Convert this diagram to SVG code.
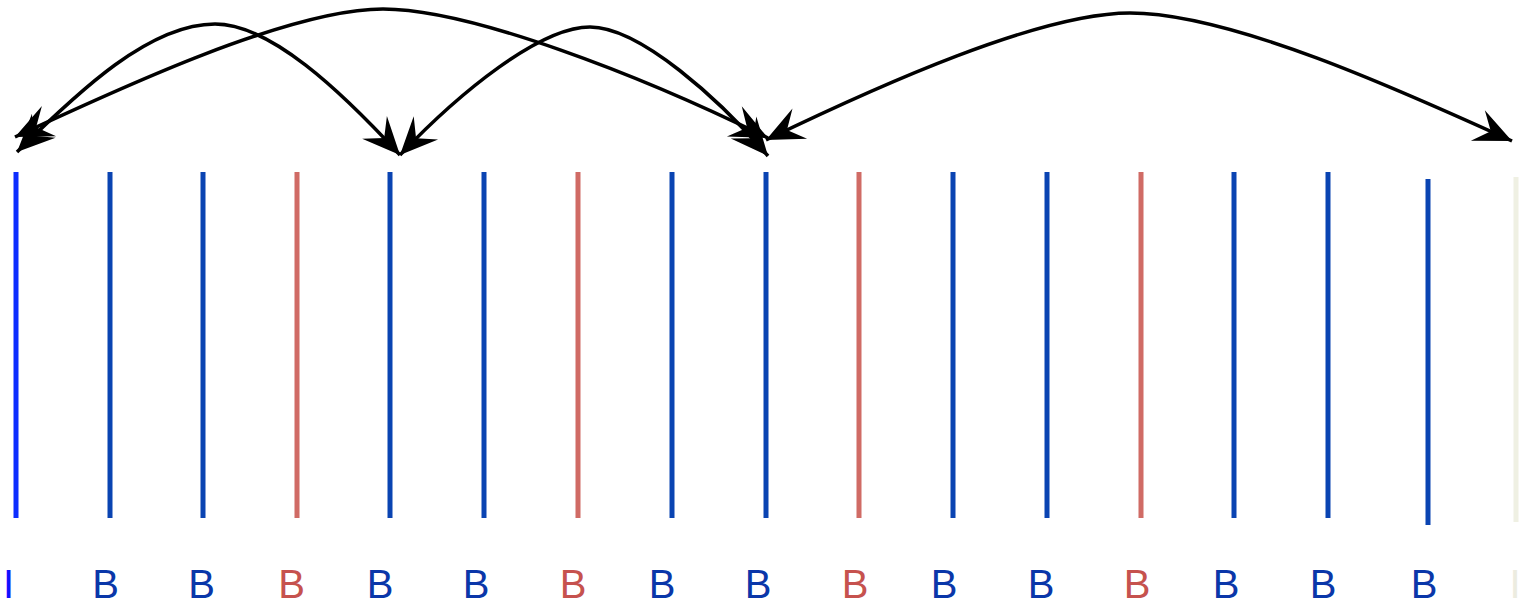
<svg xmlns="http://www.w3.org/2000/svg" width="1523" height="607" viewBox="0 0 1523 607">
<style>
.bar{stroke-width:5;fill:none}
.bI{stroke:#0d2dff}
.bB{stroke:#0a44b2}
.bR{stroke:#d06b65}
.bP{stroke:#eff0e3}
.lbl{font-family:"Liberation Sans",Arial,sans-serif;font-size:40px;text-anchor:middle}
.tI{fill:#1010ff}
.tB{fill:#0a37a9}
.tR{fill:#c6524e}
.tP{fill:#ecece0}
.arc{fill:none;stroke:#000;stroke-width:3.5;marker-start:url(#stealth);marker-end:url(#stealth)}
</style>
<defs>
<marker id="stealth" markerUnits="userSpaceOnUse" markerWidth="44" markerHeight="44" viewBox="-32 -16 34 32" refX="0" refY="0" orient="auto-start-reverse">
<path d="M0,0 L-29,-13 L-18,0 L-29,13 Z" fill="#000"/>
</marker>
</defs>
<g id="connectors">
<path class="arc" d="M17,152 C80,90 150,24 215,24 C270,24 340,90 400,155"/>
<path class="arc" d="M15,137 C120,88 290,9 383,9 C470,9 640,75 768,138"/>
<path class="arc" d="M400,155 C460,92 540,27 590,27 C640,27 720,100 768,156"/>
<path class="arc" d="M766,140 C880,85 1040,13 1130,13 C1230,13 1400,90 1512,141"/>
</g>
<g id="frame0"><line class="bar bI" x1="16" y1="172" x2="16" y2="518"/><text class="lbl tI" x="8.5" y="598">I</text></g>
<g id="frame1"><line class="bar bB" x1="110" y1="172" x2="110" y2="518"/><text class="lbl tB" x="105.5" y="598">B</text></g>
<g id="frame2"><line class="bar bB" x1="203" y1="172" x2="203" y2="518"/><text class="lbl tB" x="201.5" y="598">B</text></g>
<g id="frame3"><line class="bar bR" x1="297" y1="172" x2="297" y2="518"/><text class="lbl tR" x="291.5" y="598">B</text></g>
<g id="frame4"><line class="bar bB" x1="390" y1="172" x2="390" y2="518"/><text class="lbl tB" x="380" y="598">B</text></g>
<g id="frame5"><line class="bar bB" x1="484" y1="172" x2="484" y2="518"/><text class="lbl tB" x="476" y="598">B</text></g>
<g id="frame6"><line class="bar bR" x1="578" y1="172" x2="578" y2="518"/><text class="lbl tR" x="573" y="598">B</text></g>
<g id="frame7"><line class="bar bB" x1="672" y1="172" x2="672" y2="518"/><text class="lbl tB" x="662" y="598">B</text></g>
<g id="frame8"><line class="bar bB" x1="766" y1="172" x2="766" y2="518"/><text class="lbl tB" x="758" y="598">B</text></g>
<g id="frame9"><line class="bar bR" x1="859" y1="172" x2="859" y2="518"/><text class="lbl tR" x="855" y="598">B</text></g>
<g id="frame10"><line class="bar bB" x1="953" y1="172" x2="953" y2="518"/><text class="lbl tB" x="944" y="598">B</text></g>
<g id="frame11"><line class="bar bB" x1="1047" y1="172" x2="1047" y2="518"/><text class="lbl tB" x="1041" y="598">B</text></g>
<g id="frame12"><line class="bar bR" x1="1141" y1="172" x2="1141" y2="518"/><text class="lbl tR" x="1137" y="598">B</text></g>
<g id="frame13"><line class="bar bB" x1="1234" y1="172" x2="1234" y2="518"/><text class="lbl tB" x="1226" y="598">B</text></g>
<g id="frame14"><line class="bar bB" x1="1328" y1="172" x2="1328" y2="518"/><text class="lbl tB" x="1323" y="598">B</text></g>
<g id="frame15"><line class="bar bB" x1="1428" y1="179" x2="1428" y2="525"/><text class="lbl tB" x="1424" y="598">B</text></g>
<g id="frame16"><line class="bar bP" x1="1516" y1="177" x2="1516" y2="522"/><text class="lbl tP" x="1515" y="598">I</text></g>
</svg>
